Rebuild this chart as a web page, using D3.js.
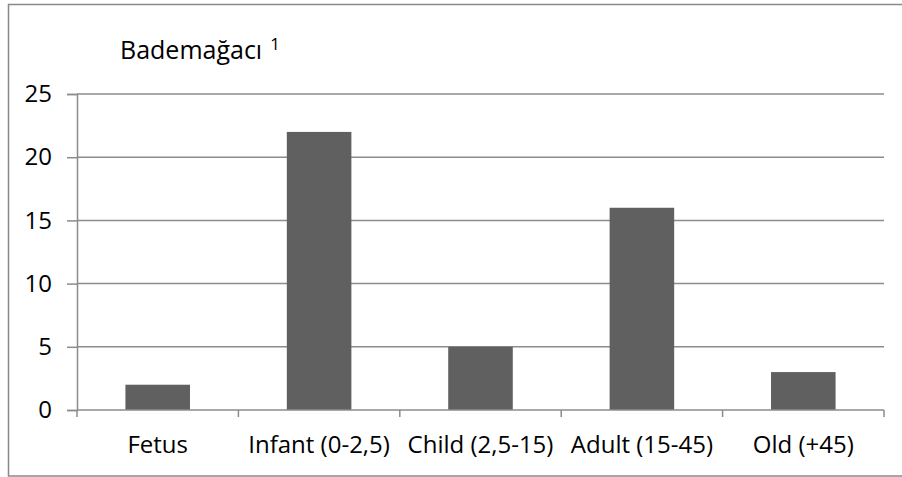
<!DOCTYPE html>
<html>
<head>
<meta charset="utf-8">
<script src="https://cdn.jsdelivr.net/npm/d3@7"></script>
<style>
  html, body { margin: 0; padding: 0; background: #fff; }
  svg text { font-family: "Open Sans", Lato, sans-serif; fill: #000; }
</style>
</head>
<body>
<svg id="chart" width="902" height="477"></svg>
<script>
const categories = ["Fetus", "Infant (0-2,5)", "Child (2,5-15)", "Adult (15-45)", "Old (+45)"];
const counts = [2, 22, 5, 16, 3];
const yTicks = [0, 5, 10, 15, 20, 25];
const chartTitle = "Bademağacı";
const titleNote = "1";

const svg = d3.select("#chart");
const plot = { left: 77, right: 884, top: 94, bottom: 410 };
const fontSize = 24;

// outer frame (right edge runs past the visible area)
svg.append("rect")
  .attr("x", 8.5).attr("y", 4.5)
  .attr("width", 902).attr("height", 471.5)
  .attr("fill", "none").attr("stroke", "#898989").attr("stroke-width", 1.5);

const x = d3.scaleBand().domain(categories).range([plot.left, plot.right]).paddingInner(0.6).paddingOuter(0.3);
const xOuter = d3.scaleBand().domain(categories).range([plot.left, plot.right]);
const y = d3.scaleLinear().domain([0, 25]).range([plot.bottom, plot.top]);

// horizontal gridlines
svg.append("g").selectAll("line")
  .data(yTicks.filter(d => d > 0))
  .join("line")
  .attr("x1", plot.left).attr("x2", plot.right)
  .attr("y1", d => y(d)).attr("y2", d => y(d))
  .attr("stroke", "#8c8c8c").attr("stroke-width", 1.5);

// bars
svg.append("g").selectAll("rect")
  .data(counts)
  .join("rect")
  .attr("x", (d, i) => x(categories[i]))
  .attr("width", x.bandwidth())
  .attr("y", d => y(d))
  .attr("height", d => y(0) - y(d))
  .attr("fill", "#606060");

// y axis
const yAxis = svg.append("g")
  .attr("transform", `translate(${plot.left},0)`)
  .call(d3.axisLeft(y).tickValues(yTicks).tickSize(10).tickPadding(15));
yAxis.select(".domain").attr("stroke", "#8c8c8c").attr("stroke-width", 1.5);
yAxis.selectAll(".tick line").attr("stroke", "#8c8c8c").attr("stroke-width", 1.5);
yAxis.selectAll(".tick text").attr("font-size", fontSize).attr("font-family", "'Open Sans', sans-serif");

// x axis with boundary ticks
const xAxisG = svg.append("g").attr("transform", `translate(0,${plot.bottom})`);
xAxisG.append("line")
  .attr("x1", plot.left).attr("x2", plot.right)
  .attr("stroke", "#8c8c8c").attr("stroke-width", 1.5);
const bounds = categories.map(c => xOuter(c)).concat([plot.right]);
xAxisG.selectAll("line.bt")
  .data(bounds)
  .join("line").attr("class", "bt")
  .attr("x1", d => d).attr("x2", d => d)
  .attr("y1", 0).attr("y2", 7)
  .attr("stroke", "#8c8c8c").attr("stroke-width", 1.5);
xAxisG.selectAll("text")
  .data(categories)
  .join("text")
  .attr("x", d => xOuter(d) + xOuter.bandwidth() / 2)
  .attr("y", 43)
  .attr("text-anchor", "middle")
  .attr("font-size", fontSize)
  .text(d => d);

// title with superscript note
const t = svg.append("text").attr("x", 120).attr("y", 59).attr("font-size", 25);
t.append("tspan").text(chartTitle);
t.append("tspan").attr("font-size", 17).attr("dx", 8).attr("dy", -9).text(titleNote);
</script>
</body>
</html>
